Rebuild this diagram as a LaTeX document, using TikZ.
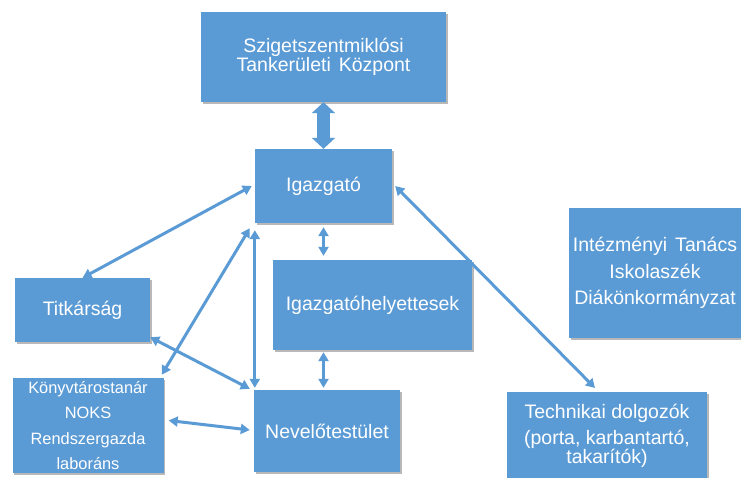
\documentclass[tikz,border=0pt]{standalone}
\usepackage{fontspec}
\setmainfont{Liberation Sans}
\usetikzlibrary{arrows.meta,shadows,calc}
\definecolor{boxblue}{HTML}{5B9BD5}
\definecolor{arrblue}{HTML}{5B9BD5}
\tikzset{
  orgbox/.style={fill=boxblue, text=white, align=center, inner sep=0pt,
    drop shadow={shadow xshift=1.6pt, shadow yshift=-1.6pt, fill=black, opacity=0.28}},
  thin link/.style={draw=arrblue, line width=3pt,
    {Triangle[length=9pt,width=10pt]}-{Triangle[length=9pt,width=10pt]}},
  thick link/.style={draw=arrblue, line width=13pt,
    {Triangle[length=11pt,width=23pt]}-{Triangle[length=11pt,width=23pt]}},
  big/.style={font=\fontsize{19.5}{19.5}\selectfont}
}
\begin{document}
\begin{tikzpicture}[x=1pt,y=-1pt]
\useasboundingbox (0,0) rectangle (741,477);
\clip (0,0) rectangle (741,477);
\fill[white] (0,0) rectangle (741,477);

\node[orgbox, minimum width=245pt, minimum height=90pt,
      font=\fontsize{19.5}{18.5}\selectfont] (top) at (323.5,57)
  {Szigetszentmiklósi\\Tankerületi\hspace{8pt}Központ};
\node[orgbox, big, minimum width=137pt, minimum height=74pt] (igaz) at (323.5,186) {Igazgató};
\node[orgbox, big, minimum width=199pt, minimum height=90pt] (helyet) at (372.5,305) {Igazgatóhelyettesek};
\node[orgbox, big, minimum width=135pt, minimum height=64pt] (titk) at (82.5,310) {Titkárság};
\node[orgbox, minimum width=151pt, minimum height=95pt,
      font=\fontsize{16.4}{25.5}\selectfont] (konyv) at (88,425.5)
  {Könyvtárostanár\\NOKS\\Rendszergazda\\laboráns};
\node[orgbox, big, minimum width=146pt, minimum height=82pt] (nevelo) at (327,431) {Nevelőtestület};
\node[orgbox, minimum width=190pt, minimum height=130pt, anchor=west] (intez) at (569,273) {};
\node[text=white, font=\fontsize{19.5}{26.5}\selectfont, align=center] (beltxt) at (655,273)
  {Intézményi\hspace{8pt}Tanács\\Iskolaszék\\Diákönkormányzat};
\node[orgbox, minimum width=200pt, minimum height=100pt, anchor=north] (tech) at (607,392) {};
\node[text=white, font=\fontsize{19.5}{19}\selectfont, align=center, anchor=north] (techtxt) at (607,401)
  {Technikai dolgozók\\[7pt](porta, karbantartó,\\takarítók)};

% connectors
\draw[thick link] (top.south) -- (igaz.north);
\draw[thin link] ($(igaz.west)+(-3,0)$) -- (titk.north);
\draw[thin link] ($(igaz.south west)+(-5,5)$) -- ($(konyv.north east)+(-2,-3)$);
\draw[thin link] ($(igaz.south west)+(0,7)$) -- ($(nevelo.north west)+(1,-2)$);
\draw[thin link] ($(titk.south east)+(0,-5)$) -- ($(nevelo.north west)+(-4,-1)$);
\draw[thin link] ($(konyv.east)+(5,-5)$) -- ($(nevelo.west)+(-4,-1)$);
\draw[thin link] ($(igaz.south)+(0,4)$) -- ($(igaz.south |- helyet.north)+(0,-4)$);
\draw[thin link] ($(igaz.south |- helyet.south)+(0,2)$) -- ($(igaz.south |- nevelo.north)+(0,-2)$);
\draw[thin link] ($(igaz.east)+(3,0)$) -- ($(tech.north)+(-12,-4)$);
\end{tikzpicture}
\end{document}
